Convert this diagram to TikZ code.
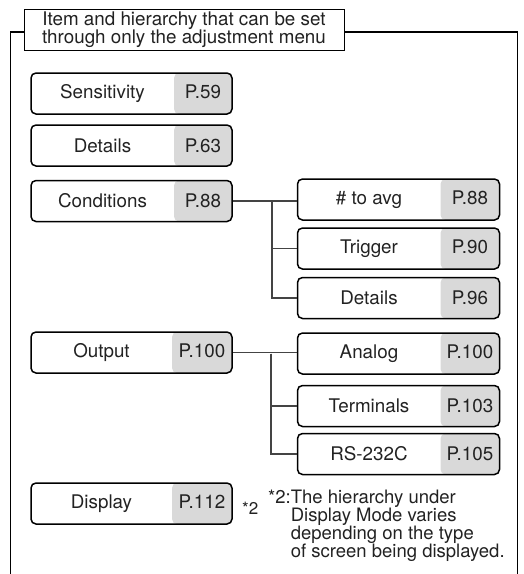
\documentclass[tikz,border=0pt]{standalone}
\usepackage{fontspec}
\setmainfont{TeX Gyre Heros}
\definecolor{boxgray}{HTML}{D9D9D9}
\definecolor{txt}{HTML}{222222}
\definecolor{conn}{HTML}{444444}
\begin{document}
\begin{tikzpicture}[x=1pt,y=-1pt,
  mbox/.style={draw, line width=1.5pt, rounded corners=5pt, inner sep=0pt,
    minimum height=41pt, text=txt, font=\fontsize{18.8}{20}\selectfont,
    path picture={\fill[boxgray] ([xshift=-#1]path picture bounding box.north east) rectangle (path picture bounding box.south east);}},
  conline/.style={draw=conn, line width=1.1pt},
  frameline/.style={draw=black, line width=1.1pt}]
\useasboundingbox (0,0) rectangle (524,574);
% frame
\node[draw, line width=0.9pt, fill=white, minimum width=320pt, minimum height=41pt, inner sep=0pt,
  align=center, text=txt, font=\fontsize{18.8}{18}\selectfont] (title) at (184,29.5)
  {Item and hierarchy that can be set\\through only the adjustment menu};
\coordinate (fl) at (10.5,574);
\coordinate (fr) at (517.5,574);
\draw[frameline] (title.west |- 0,32) -| (fl);
\draw[frameline] (title.east |- 0,32) -| (fr);
% main boxes
\node[mbox=58pt] (sens) at (131.5,93.5) {\makebox[143pt]{Sensitivity}\makebox[58pt]{P.59}};
\node[mbox=58pt] (det) at (131.5,145.5) {\makebox[143pt]{Details}\makebox[58pt]{P.63}};
\node[mbox=58pt] (cond) at (131.5,201) {\makebox[143pt]{Conditions}\makebox[58pt]{P.88}};
\node[mbox=60pt] (out) at (131.5,352.5) {\makebox[141pt]{Output}\makebox[60pt]{P.100}};
\node[mbox=60pt] (disp) at (131.5,503.5) {\makebox[141pt]{Display}\makebox[60pt]{P.112}};
% sub boxes
\node[mbox=59pt] (avg) at (398.5,199.5) {\makebox[143pt]{\# to avg}\makebox[59pt]{P.88}};
\node[mbox=59pt] (trig) at (398.5,248.5) {\makebox[143pt]{Trigger}\makebox[59pt]{P.90}};
\node[mbox=59pt] (det2) at (398.5,298) {\makebox[143pt]{Details}\makebox[59pt]{P.96}};
\node[mbox=59pt] (ana) at (398.5,353.5) {\makebox[143pt]{Analog}\makebox[59pt]{P.100}};
\node[mbox=59pt] (term) at (398.5,406) {\makebox[143pt]{Terminals}\makebox[59pt]{P.103}};
\node[mbox=59pt] (rs) at (398.5,454) {\makebox[143pt]{RS-232C}\makebox[59pt]{P.105}};
% connectors
\coordinate (j1) at (272,201);
\coordinate (j2) at (271,353.5);
\draw[conline] (cond.east) -- (avg.west |- cond.east);
\draw[conline] (j1) |- (trig.west);
\draw[conline] (j1) |- (det2.west);
\draw[conline] (out.east) -- (ana.west |- out.east);
\draw[conline] (j2) |- (term.west);
\draw[conline] (j2) |- (rs.west);
% notes
\node[anchor=base west, inner sep=0pt, text=txt, font=\fontsize{17}{17}\selectfont] (star) at (242,514) {*2};
\node[anchor=base west, inner sep=0pt, text=txt, font=\fontsize{18.5}{15.7}\selectfont] (note) at (268,503)
  {\begin{tabular}[t]{@{}l@{}l@{}}*2:&The hierarchy under\\&Display Mode varies\\&depending on the type\\&of screen being displayed.\end{tabular}};
\end{tikzpicture}
\end{document}
